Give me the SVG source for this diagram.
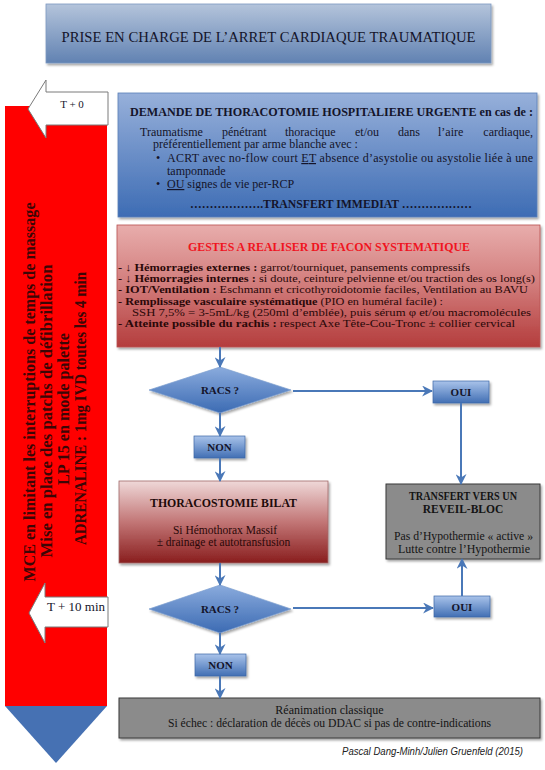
<svg xmlns="http://www.w3.org/2000/svg" width="545" height="770" viewBox="0 0 545 770">
<style>
.serif{font-family:"Liberation Serif","Times New Roman",serif}
.b{font-weight:bold}
.tc{text-anchor:middle}
.dark{fill:#14142a}
.conn{stroke:#4a78b8;stroke-width:2;fill:none}
.btn{fill:url(#gBtn);stroke:#3d67a6;stroke-width:0.7}
.dia{fill:url(#gDia);stroke:#7d9fd0;stroke-width:0.7}
.grey{fill:#8b8b8b;stroke:#3a3a3a;stroke-width:1}
.lbl{font-family:"Liberation Serif","Times New Roman",serif;font-weight:bold;font-size:11px;fill:#14142a;text-anchor:middle}
.vt{font-family:"Liberation Serif","Times New Roman",serif;font-weight:bold;font-size:16px;fill:#3b0606;text-anchor:middle}
.tarrow{fill:#ffffff;stroke:#7a7a7a;stroke-width:1}
</style>
<defs>
<linearGradient id="gTitle" x1="0" y1="0" x2="0" y2="1"><stop offset="0" stop-color="#b4c4db"/><stop offset="1" stop-color="#6182b2"/></linearGradient>
<linearGradient id="gDem" x1="0" y1="0" x2="0" y2="1"><stop offset="0" stop-color="#97b0da"/><stop offset="1" stop-color="#3d6cb4"/></linearGradient>
<linearGradient id="gGes" x1="0" y1="0" x2="0" y2="1"><stop offset="0" stop-color="#e8adac"/><stop offset="0.5" stop-color="#d17b7a"/><stop offset="1" stop-color="#b43c3c"/></linearGradient>
<linearGradient id="gTho" x1="0" y1="0" x2="0" y2="1"><stop offset="0" stop-color="#efd8d8"/><stop offset="0.5" stop-color="#c27676"/><stop offset="1" stop-color="#891d1d"/></linearGradient>
<linearGradient id="gDia" x1="0" y1="0" x2="0" y2="1"><stop offset="0" stop-color="#8aabdd"/><stop offset="1" stop-color="#3c6bb3"/></linearGradient>
<linearGradient id="gBtn" x1="0" y1="0" x2="0" y2="1"><stop offset="0" stop-color="#a9c3ea"/><stop offset="1" stop-color="#416fb4"/></linearGradient>
<filter id="sh" x="-5%" y="-10%" width="115%" height="130%"><feDropShadow dx="1.5" dy="2" stdDeviation="1.2" flood-color="#000" flood-opacity="0.35"/></filter>
<marker id="ah" viewBox="0 0 10 10" refX="9" refY="5" markerWidth="5.5" markerHeight="5.5" orient="auto" markerUnits="strokeWidth"><path d="M0,0 L10,5 L0,10 L3,5 z" fill="#4a78b8"/></marker>
</defs>

<g id="title">
<rect x="46" y="4" width="445" height="59" fill="url(#gTitle)" stroke="#7c98c0" stroke-width="0.8" filter="url(#sh)"/>
<text x="268.5" y="42" class="serif tc dark" font-size="15" textLength="414" lengthAdjust="spacingAndGlyphs">PRISE EN CHARGE DE L’ARRET CARDIAQUE TRAUMATIQUE</text>
</g>

<g id="timeline">
<rect x="5" y="106" width="102" height="600" fill="#ff0000"/>
<polygon points="5,706 107,706 56,763" fill="#4671b3"/>
<text class="vt" transform="translate(35,392) rotate(-90)" textLength="379" lengthAdjust="spacingAndGlyphs">MCE en limitant les interruptions de temps de massage</text>
<text class="vt" transform="translate(52,411) rotate(-90)" textLength="293" lengthAdjust="spacingAndGlyphs">Mise en place des patchs de défibrillation</text>
<text class="vt" transform="translate(69,409) rotate(-90)" textLength="152" lengthAdjust="spacingAndGlyphs">LP 15 en mode palette</text>
<text class="vt" transform="translate(86,408.5) rotate(-90)" textLength="273" lengthAdjust="spacingAndGlyphs">ADRENALINE : 1mg IVD toutes les 4 min</text>
</g>

<g id="t0">
<polygon class="tarrow" points="108,92 46,92 46,80 28,109 46,138 46,125 108,125"/>
<text x="72" y="108" class="serif tc dark" font-size="11">T + 0</text>
</g>

<g id="t10">
<polygon class="tarrow" points="108,597 45,597 45,583 29,613 45,643 45,627 108,627"/>
<text x="76" y="611" class="serif tc dark" font-size="12" textLength="58" lengthAdjust="spacingAndGlyphs">T + 10 min</text>
</g>

<g id="demande">
<rect x="118" y="93" width="419" height="124" fill="url(#gDem)" stroke="#5b7fb8" stroke-width="0.8" filter="url(#sh)"/>
<text x="130" y="116" class="serif b dark" font-size="12" textLength="403" lengthAdjust="spacingAndGlyphs">DEMANDE DE THORACOTOMIE HOSPITALIERE URGENTE en cas de :</text>
<g class="serif dark" font-size="12">
<text y="135.5"><tspan x="140">Traumatisme</tspan><tspan x="222">pénétrant</tspan><tspan x="285">thoracique</tspan><tspan x="355">et/ou</tspan><tspan x="398">dans</tspan><tspan x="438">l’aire</tspan></text>
<text x="533" y="135.5" text-anchor="end">cardiaque,</text>
<text x="153" y="148">préférentiellement par arme blanche avec :</text>
<text x="156" y="162">•</text>
<text x="167" y="162" textLength="366" lengthAdjust="spacing">ACRT avec no-flow court <tspan text-decoration="underline">ET</tspan> absence d’asystolie ou asystolie liée à une</text>
<text x="167" y="175">tamponnade</text>
<text x="156" y="188">•</text>
<text x="167" y="188"><tspan text-decoration="underline">OU</tspan> signes de vie per-RCP</text>
</g>
<text x="331" y="207.5" class="serif b tc dark" font-size="12" textLength="282" lengthAdjust="spacingAndGlyphs">……………….TRANSFERT IMMEDIAT ………………</text>
</g>

<g id="gestes">
<rect x="117" y="225" width="423" height="122" fill="url(#gGes)" stroke="#b85050" stroke-width="0.8" filter="url(#sh)"/>
<text x="329" y="251" class="serif b tc" font-size="12.5" fill="#f0141e" textLength="282" lengthAdjust="spacingAndGlyphs">GESTES A REALISER DE FACON SYSTEMATIQUE</text>
<g class="serif" font-size="11" fill="#2a0808">
<text x="118" y="271" textLength="352" lengthAdjust="spacingAndGlyphs"><tspan class="b">- ↓ Hémorragies externes :</tspan> garrot/tourniquet, pansements compressifs</text>
<text x="118" y="282" textLength="417" lengthAdjust="spacingAndGlyphs"><tspan class="b">- ↓ Hémorragies internes :</tspan> si doute, ceinture pelvienne et/ou traction des os long(s)</text>
<text x="118" y="293" textLength="410" lengthAdjust="spacingAndGlyphs"><tspan class="b">- IOT/Ventilation :</tspan> Eschmann et cricothyroidotomie faciles, Ventilation au BAVU</text>
<text x="118" y="304.5" textLength="325" lengthAdjust="spacingAndGlyphs"><tspan class="b">- Remplissage vasculaire systématique</tspan> (PIO en huméral facile) :</text>
<text x="132" y="315.5" textLength="399" lengthAdjust="spacingAndGlyphs">SSH 7,5% = 3-5mL/kg (250ml d’emblée), puis sérum φ et/ou macromolécules</text>
<text x="118" y="327" textLength="397" lengthAdjust="spacingAndGlyphs"><tspan class="b">- Atteinte possible du rachis :</tspan> respect Axe Tête-Cou-Tronc ± collier cervical</text>
</g>
</g>

<g id="racs1">
<polygon class="dia" points="149,390 220,367 291,390 220,413" filter="url(#sh)"/>
<text x="220" y="394" class="lbl">RACS ?</text>
</g>
<g id="oui1">
<rect class="btn" x="433" y="381" width="56" height="22" filter="url(#sh)"/>
<text x="461" y="396" class="lbl">OUI</text>
</g>
<g id="non1">
<rect class="btn" x="194" y="436" width="51" height="22" filter="url(#sh)"/>
<text x="219.5" y="451" class="lbl">NON</text>
</g>

<g id="thoraco">
<rect x="119" y="481" width="209" height="82" fill="url(#gTho)" stroke="#a06a6a" stroke-width="0.8" filter="url(#sh)"/>
<text x="223.5" y="507" class="serif b tc" font-size="12" fill="#1e0a0a" textLength="147" lengthAdjust="spacingAndGlyphs">THORACOSTOMIE BILAT</text>
<text x="225" y="533.5" class="serif tc" font-size="11.5" fill="#2a0808">Si Hémothorax Massif</text>
<text x="223.5" y="546" class="serif tc" font-size="11.5" fill="#2a0808">± drainage et autotransfusion</text>
</g>

<g id="transfert">
<rect class="grey" x="386" y="484" width="154" height="75" filter="url(#sh)"/>
<text x="463" y="500" class="serif b tc" font-size="11.5" fill="#141414" textLength="108" lengthAdjust="spacingAndGlyphs">TRANSFERT VERS UN</text>
<text x="463" y="513" class="serif b tc" font-size="11.5" fill="#141414">REVEIL-BLOC</text>
<text x="463.5" y="540" class="serif tc" font-size="11.5" fill="#141414" textLength="139" lengthAdjust="spacingAndGlyphs">Pas d’Hypothermie « active »</text>
<text x="464" y="553" class="serif tc" font-size="11.5" fill="#141414" textLength="132" lengthAdjust="spacingAndGlyphs">Lutte contre l’Hypothermie</text>
</g>

<g id="racs2">
<polygon class="dia" points="149,609 220,585 291,609 220,633" filter="url(#sh)"/>
<text x="220" y="613" class="lbl">RACS ?</text>
</g>
<g id="oui2">
<rect class="btn" x="434" y="596" width="56" height="21" filter="url(#sh)"/>
<text x="462" y="610.5" class="lbl">OUI</text>
</g>
<g id="non2">
<rect class="btn" x="195" y="654" width="51" height="22" filter="url(#sh)"/>
<text x="220.5" y="669" class="lbl">NON</text>
</g>

<g id="reanimation">
<rect class="grey" x="119" y="698" width="421" height="40" filter="url(#sh)"/>
<text x="329.5" y="714" class="serif tc" font-size="12" fill="#141414">Réanimation classique</text>
<text x="329.5" y="727" class="serif tc" font-size="12" fill="#141414" textLength="323" lengthAdjust="spacingAndGlyphs">Si échec : déclaration de décès ou DDAC si pas de contre-indications</text>
</g>

<g id="credit">
<text x="523" y="755" text-anchor="end" font-family="'Liberation Sans',Arial,sans-serif" font-style="italic" font-size="10" fill="#222" textLength="181" lengthAdjust="spacingAndGlyphs">Pascal Dang-Minh/Julien Gruenfeld (2015)</text>
</g>

<g id="connectors">
<line class="conn" x1="220" y1="347" x2="220" y2="367" marker-end="url(#ah)"/>
<line class="conn" x1="293" y1="391" x2="432" y2="391" marker-end="url(#ah)"/>
<line class="conn" x1="220" y1="413" x2="220" y2="436" marker-end="url(#ah)"/>
<line class="conn" x1="220" y1="458" x2="220" y2="481" marker-end="url(#ah)"/>
<line class="conn" x1="461" y1="403" x2="461" y2="484" marker-end="url(#ah)"/>
<line class="conn" x1="220" y1="563" x2="220" y2="585" marker-end="url(#ah)"/>
<line class="conn" x1="293" y1="608" x2="433" y2="608" marker-end="url(#ah)"/>
<line class="conn" x1="462" y1="596" x2="462" y2="559" marker-end="url(#ah)"/>
<line class="conn" x1="220" y1="633" x2="220" y2="654" marker-end="url(#ah)"/>
<line class="conn" x1="220" y1="676" x2="220" y2="698" marker-end="url(#ah)"/>
</g>
</svg>
